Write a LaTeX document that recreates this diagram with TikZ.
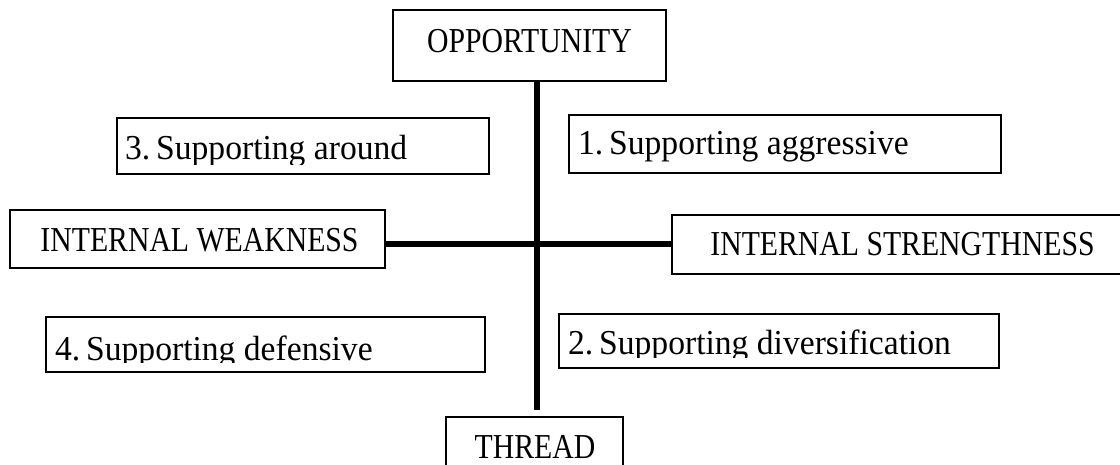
\documentclass[tikz,border=0pt]{standalone}
\usepackage{fontspec}
\setmainfont{Liberation Serif}[FakeStretch=0.85]
\newfontfamily\numfont{Liberation Serif}[FakeStretch=0.96]
\begin{document}
\begin{tikzpicture}[x=1pt,y=-1pt,
  box/.style={draw=black, line width=1.8pt, rectangle, inner sep=0pt, outer sep=0pt, anchor=north west},
  lbl/.style={inner sep=0pt, outer sep=0pt, font=\fontsize{35}{42}\selectfont},
  numlbl/.style={lbl, anchor=base west, font=\numfont\fontsize{35}{42}\selectfont},
  axis/.style={draw=black, line width=6pt}]
\clip (0,0) rectangle (1120,465);
% boxes
\node[box, minimum width=273pt, minimum height=71pt] (opp) at (393,10) {};
\node[box, minimum width=372pt, minimum height=56pt] (b3) at (117,118) {};
\node[box, minimum width=432pt, minimum height=58pt] (b1) at (569,115) {};
\node[box, minimum width=375pt, minimum height=58pt] (weak) at (10,210) {};
\node[box, minimum width=463pt, minimum height=59pt] (strong) at (672,215) {};
\node[box, minimum width=439pt, minimum height=55pt] (b4) at (46,317) {};
\node[box, minimum width=440pt, minimum height=54pt] (b2) at (559,314) {};
\node[box, minimum width=177pt, minimum height=63pt] (thread) at (446,417) {};
% texts
\node[lbl, anchor=base] (toppt) at (529.5,53) {OPPORTUNITY};
\node[lbl, anchor=base] (tweak) at (199.5,252) {INTERNAL WEAKNESS};
\node[lbl, anchor=base] (tstrong) at (902.5,256) {INTERNAL STRENGTHNESS};
\node[lbl, anchor=base] (tthread) at (535,458) {THREAD};
\begin{scope}
\clip (b3.north west) rectangle ([yshift=9pt]b3.south east);
\node[numlbl] (t3) at (125,160) {3.\hspace{6pt}Supporting around};
\end{scope}
\begin{scope}
\clip (b1.north west) rectangle ([yshift=9pt]b1.south east);
\node[numlbl] (t1) at (578,155) {1.\hspace{6pt}Supporting aggressive};
\end{scope}
\begin{scope}
\clip (b4.north west) rectangle ([yshift=10pt]b4.south east);
\node[numlbl] (t4) at (55,360) {4.\hspace{6pt}Supporting defensive};
\end{scope}
\begin{scope}
\clip (b2.north west) rectangle ([yshift=11pt]b2.south east);
\node[numlbl] (t2) at (568,355) {2.\hspace{6pt}Supporting diversification};
\end{scope}
% axes
\coordinate (c) at (537,244);
\coordinate (vend) at (537,410);
\draw[axis] (c |- opp.south) -- (vend);
\draw[axis] (weak.east |- c) -- (strong.west |- c);
\end{tikzpicture}
\end{document}
